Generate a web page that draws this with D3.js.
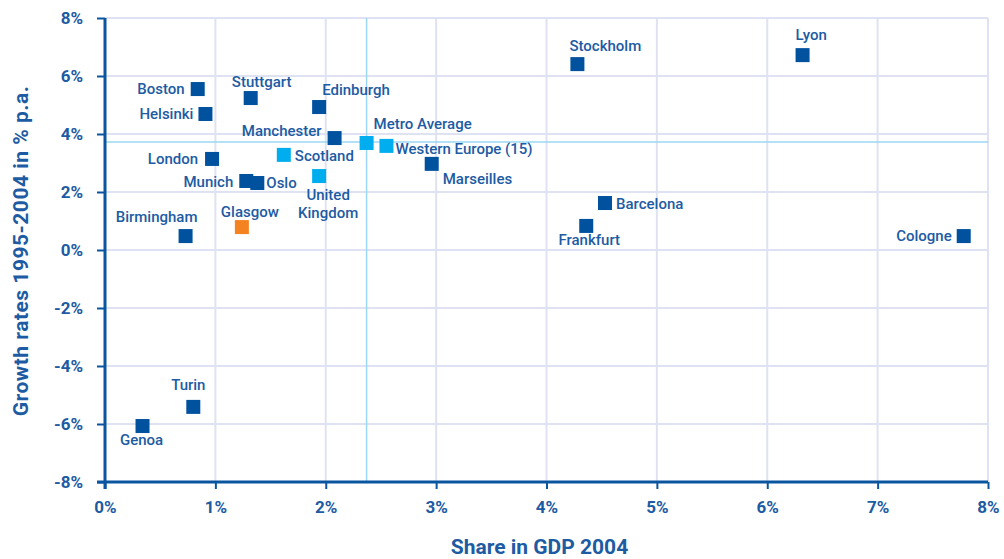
<!DOCTYPE html>
<html>
<head>
<meta charset="utf-8">
<script src="https://cdn.jsdelivr.net/npm/d3@7"></script>
<style>
  body { margin: 0; background: #fff; }
  svg text { font-family: Roboto, "Open Sans", sans-serif; }
</style>
</head>
<body>
<div id="chart"></div>
<script>
// City names, GDP share (x, %) and growth rate (y, % p.a.)
const cities = ["Boston", "Helsinki", "Stuttgart", "Edinburgh", "Manchester", "Metro Average",
    "Western Europe (15)", "Scotland", "United Kingdom", "London", "Munich", "Oslo", "Marseilles",
    "Birmingham", "Glasgow", "Stockholm", "Lyon", "Barcelona", "Frankfurt", "Cologne", "Turin", "Genoa"];
const gdpShare = [0.84, 0.91, 1.32, 1.94, 2.08, 2.37, 2.55, 1.62, 1.94, 0.97, 1.28, 1.38, 2.96,
    0.73, 1.24, 4.28, 6.32, 4.53, 4.36, 7.78, 0.80, 0.34];
const growth = [5.55, 4.69, 5.24, 4.93, 3.86, 3.69, 3.59, 3.28, 2.55, 3.14, 2.38, 2.31, 2.97,
    0.48, 0.79, 6.41, 6.72, 1.62, 0.83, 0.48, -5.41, -6.07];
// group: 0 = metro region, 1 = benchmark, 2 = Glasgow
const group = [0, 0, 0, 0, 0, 1, 1, 1, 1, 0, 0, 0, 0, 0, 2, 0, 0, 0, 0, 0, 0, 0];

const xTicks = [0, 1, 2, 3, 4, 5, 6, 7, 8];
const yTicks = [-8, -6, -4, -2, 0, 2, 4, 6, 8];
const metroAvgX = 2.37;
const metroAvgY = 3.72;

// label placement: [anchor, dx, dy] relative to the marker centre
const labelPos = {
    "Boston": ["end", -13, 0], "Helsinki": ["end", -12, 0], "Stuttgart": ["middle", 11, -16],
    "Edinburgh": ["start", 3, -17], "Manchester": ["end", -13, -7], "Metro Average": ["start", 7, -19],
    "Western Europe (15)": ["start", 9, 3], "Scotland": ["start", 11, 1], "United Kingdom": ["middle", 9, 19],
    "London": ["end", -14, 0], "Munich": ["end", -13, 1], "Oslo": ["start", 9, 0],
    "Marseilles": ["start", 11, 15], "Birmingham": ["middle", -29, -19], "Glasgow": ["middle", 8, -15],
    "Stockholm": ["start", -8, -18], "Lyon": ["start", -7, -20], "Barcelona": ["start", 11, 1],
    "Frankfurt": ["middle", 3, 14], "Cologne": ["end", -12, 0], "Turin": ["middle", -5, -22],
    "Genoa": ["middle", -1, 14]
};

const colors = ["#00519e", "#00aeef", "#f58220"];
const textColor = "#1d5ba3";

const margin = { top: 18, right: 16, bottom: 77, left: 105 };
const width = 1004 - margin.left - margin.right;
const height = 559 - margin.top - margin.bottom;

const svg = d3.select("#chart")
    .append("svg")
    .attr("width", 1004)
    .attr("height", 559)
    .append("g")
    .attr("transform", `translate(${margin.left},${margin.top})`);

const x = d3.scaleLinear().domain([0, 8]).range([0, width]);
const y = d3.scaleLinear().domain([-8, 8]).range([height, 0]);

// Gridlines
svg.selectAll(".vgrid")
    .data(xTicks.slice(1))
    .enter().append("line")
    .attr("x1", d => x(d)).attr("x2", d => x(d))
    .attr("y1", 0).attr("y2", height)
    .attr("stroke", "#dfe2f2").attr("stroke-width", 2);

svg.selectAll(".hgrid")
    .data(yTicks.slice(1))
    .enter().append("line")
    .attr("x1", 0).attr("x2", width)
    .attr("y1", d => y(d)).attr("y2", d => y(d))
    .attr("stroke", "#dfe2f2").attr("stroke-width", 2);

// Metro average reference lines
svg.append("line")
    .attr("x1", x(metroAvgX)).attr("x2", x(metroAvgX))
    .attr("y1", 0).attr("y2", height)
    .attr("stroke", "#9bd7f2").attr("stroke-width", 1.5);
svg.append("line")
    .attr("x1", 0).attr("x2", width)
    .attr("y1", y(metroAvgY)).attr("y2", y(metroAvgY))
    .attr("stroke", "#9bd7f2").attr("stroke-width", 1.5);

// Axes
const xAxis = svg.append("g")
    .attr("transform", `translate(0,${height})`)
    .call(d3.axisBottom(x).tickValues(xTicks).tickFormat(d => d + "%").tickSize(7).tickSizeOuter(0));
const yAxis = svg.append("g")
    .call(d3.axisLeft(y).tickValues(yTicks).tickFormat(d => d + "%").tickSize(8).tickSizeOuter(0));

[xAxis, yAxis].forEach(a => {
    a.select(".domain").attr("stroke", "#0a55a0").attr("stroke-width", 3);
    a.selectAll(".tick line").attr("stroke", "#0a55a0").attr("stroke-width", 2);
    a.selectAll(".tick text")
        .attr("fill", textColor)
        .attr("font-size", "17px")
        .attr("font-weight", "bold");
});
xAxis.selectAll(".tick text").attr("y", 19).attr("dy", "0.71em");
yAxis.selectAll(".tick text").attr("x", -22);
yAxis.select(".domain").attr("d", `M0,0V${height + 7}`);
xAxis.select(".domain").attr("d", `M-8,0H${width}`);

// Points
const points = cities.map((c, i) => ({ name: c, gx: gdpShare[i], gy: growth[i], g: group[i] }));
const sz = 14;

svg.selectAll(".pt")
    .data(points)
    .enter().append("rect")
    .attr("x", d => x(d.gx) - sz / 2)
    .attr("y", d => y(d.gy) - sz / 2)
    .attr("width", sz).attr("height", sz)
    .attr("fill", d => colors[d.g]);

// Labels
svg.selectAll(".lbl")
    .data(points)
    .enter().append("text")
    .attr("text-anchor", d => labelPos[d.name][0])
    .attr("x", d => x(d.gx) + labelPos[d.name][1])
    .attr("y", d => y(d.gy) + labelPos[d.name][2])
    .attr("dy", "0.35em")
    .attr("fill", textColor)
    .attr("font-size", "15px")
    .attr("font-weight", 500)
    .each(function (d) {
        const t = d3.select(this);
        if (d.name === "United Kingdom") {
            t.append("tspan").attr("x", x(d.gx) + labelPos[d.name][1]).text("United");
            t.append("tspan").attr("x", x(d.gx) + labelPos[d.name][1]).attr("dy", "1.15em").text("Kingdom");
        } else {
            t.text(d.name);
        }
    });

// Axis titles
svg.append("text")
    .attr("x", width / 2 - 7)
    .attr("y", height + 72)
    .attr("text-anchor", "middle")
    .attr("fill", textColor)
    .attr("font-size", "21px")
    .attr("font-weight", "bold")
    .text("Share in GDP 2004");

svg.append("text")
    .attr("transform", "rotate(-90)")
    .attr("x", -(height / 2) - 1)
    .attr("y", -margin.left + 28)
    .attr("text-anchor", "middle")
    .attr("fill", textColor)
    .attr("font-size", "21px")
    .attr("font-weight", "bold")
    .attr("letter-spacing", "0.5px")
    .text("Growth rates 1995-2004 in % p.a.");
</script>
</body>
</html>
